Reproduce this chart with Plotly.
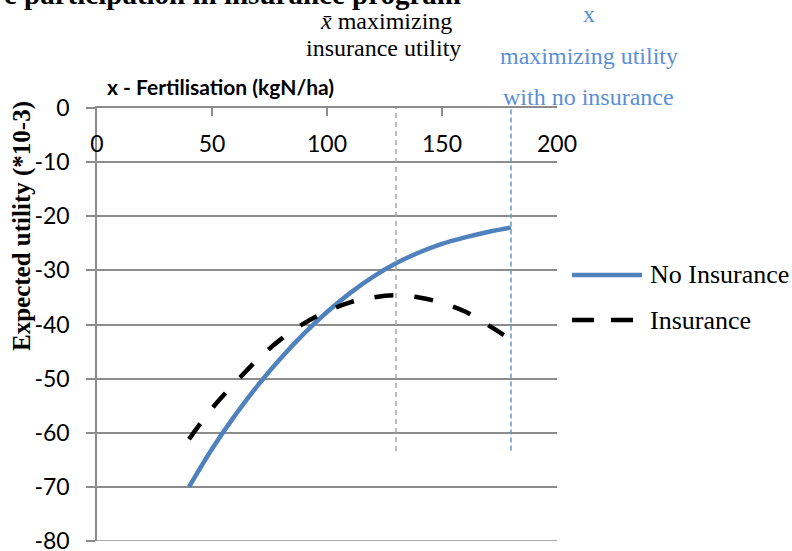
import plotly.graph_objects as go

# Fertilisation levels (kgN/ha)
fertilisation = [40, 50, 60, 70, 80, 90, 100, 110, 120, 130, 140, 150, 160, 170, 180]

# Expected utility (*10-3)
no_insurance = [-70.0, -63.0, -56.8, -51.2, -46.2, -41.7, -37.7, -34.2, -31.2, -28.7,
                -26.7, -25.1, -23.9, -22.9, -22.1]
insurance = [-61.2, -55.5, -50.8, -46.4, -42.7, -39.8, -37.6, -35.9, -35.0, -34.6,
             -35.0, -36.0, -37.6, -40.1, -42.8]

x_ticks = [0, 50, 100, 150, 200]
y_ticks = [0, -10, -20, -30, -40, -50, -60, -70, -80]

# optimal fertilisation levels
x_opt_insurance = 130
x_opt_no_insurance = 180

BLUE = "#4f81bd"
BLUE_TXT = "#5b8fd6"
GRID = "#8c8c8c"
SANS = "Lato, Open Sans, sans-serif"
SERIF = "Liberation Serif, Times New Roman, serif"

W, H = 792, 551
ML, MR, MT, MB = 97, 235, 108, 10


def px_x(p):
    return (p - ML) / (W - ML - MR)


def px_y(p):
    return (H - MB - p) / (H - MT - MB)


fig = go.Figure()

fig.add_trace(go.Scatter(
    x=fertilisation, y=no_insurance, mode="lines", name="No Insurance",
    line=dict(color=BLUE, width=4.5, shape="spline", smoothing=1.0),
    showlegend=False,
))
fig.add_trace(go.Scatter(
    x=fertilisation, y=insurance, mode="lines", name="Insurance",
    line=dict(color="black", width=4.5, dash="19px,21px", shape="spline", smoothing=1.0),
    showlegend=False,
))

shapes = [
    # bottom gridline
    dict(type="line", xref="x", yref="y", x0=0, x1=200, y0=y_ticks[-1], y1=y_ticks[-1],
         line=dict(color=GRID, width=1.5), layer="below"),
    # optimum markers
    dict(type="line", xref="x", yref="y", x0=x_opt_insurance, x1=x_opt_insurance,
         y0=2.4, y1=-63.6, line=dict(color="#a6a6a6", width=1.5, dash="5px,4px")),
    dict(type="line", xref="x", yref="y", x0=x_opt_no_insurance, x1=x_opt_no_insurance,
         y0=1.2, y1=-63.8, line=dict(color="#5b9bd5", width=1.5, dash="5px,3px")),
    # legend samples
    dict(type="line", xref="paper", yref="paper", x0=px_x(572), x1=px_x(642),
         y0=px_y(275), y1=px_y(275), line=dict(color=BLUE, width=4.5)),
    dict(type="line", xref="paper", yref="paper", x0=px_x(572), x1=px_x(642),
         y0=px_y(320), y1=px_y(320), line=dict(color="black", width=4.5, dash="22px,17px")),
]

annotations = [
    dict(text="<b>e participation in insurance program</b>", x=px_x(463), y=px_y(-6),
         xanchor="right", yanchor="middle", font=dict(family=SERIF, size=29, color="black")),
    dict(text="<b>x - Fertilisation (kgN/ha)</b>", x=px_x(105), y=px_y(87),
         xanchor="left", yanchor="middle", font=dict(family=SANS, size=21, color="black")),
    dict(text="<b>Expected utility (*10-3)</b>", x=px_x(22), y=px_y(226), textangle=-90,
         xanchor="center", yanchor="middle", font=dict(family=SERIF, size=25, color="black")),
    dict(text="<i>x̄</i> maximizing", x=px_x(386), y=px_y(21),
         xanchor="center", yanchor="middle", font=dict(family=SERIF, size=24, color="black")),
    dict(text="insurance utility", x=px_x(383), y=px_y(48),
         xanchor="center", yanchor="middle", font=dict(family=SERIF, size=24, color="black")),
    dict(text="x", x=px_x(589), y=px_y(14),
         xanchor="center", yanchor="middle", font=dict(family=SERIF, size=24, color=BLUE_TXT)),
    dict(text="maximizing utility", x=px_x(589), y=px_y(56),
         xanchor="center", yanchor="middle", font=dict(family=SERIF, size=24, color=BLUE_TXT)),
    dict(text="with no insurance", x=px_x(588), y=px_y(97),
         xanchor="center", yanchor="middle", font=dict(family=SERIF, size=24, color=BLUE_TXT)),
    dict(text="No Insurance", x=px_x(648), y=px_y(274),
         xanchor="left", yanchor="middle", font=dict(family=SERIF, size=26, color="black")),
    dict(text="Insurance", x=px_x(648), y=px_y(320),
         xanchor="left", yanchor="middle", font=dict(family=SERIF, size=26, color="black")),
]
for a in annotations:
    a.update(xref="paper", yref="paper", showarrow=False)

fig.update_layout(
    width=W, height=H,
    margin=dict(l=ML, r=MR, t=MT, b=MB, autoexpand=False),
    paper_bgcolor="white", plot_bgcolor="white",
    showlegend=False,
    shapes=shapes,
    annotations=annotations,
    xaxis=dict(
        range=[0, 200], side="top", tickvals=x_ticks, ticktext=[str(v) for v in x_ticks],
        ticks="inside", ticklen=8, tickcolor=GRID, tickwidth=1.5,
        ticklabelposition="inside", ticklabelstandoff=22, ticklabeloverflow="allow",
        showline=True, linecolor=GRID, linewidth=1.5,
        showgrid=False, zeroline=False, automargin=False,
        tickfont=dict(family=SANS, size=23, color="black"),
    ),
    yaxis=dict(
        range=[-80, 0], tickvals=y_ticks, ticktext=[str(v) for v in y_ticks],
        ticks="outside", ticklen=9, tickcolor=GRID, tickwidth=1.5,
        ticklabelstandoff=12, ticklabeloverflow="allow",
        showline=True, linecolor=GRID, linewidth=1.5,
        showgrid=True, gridcolor=GRID, gridwidth=1.5, zeroline=False, automargin=False,
        tickfont=dict(family=SANS, size=23, color="black"),
    ),
)

fig.write_html("out.html")
